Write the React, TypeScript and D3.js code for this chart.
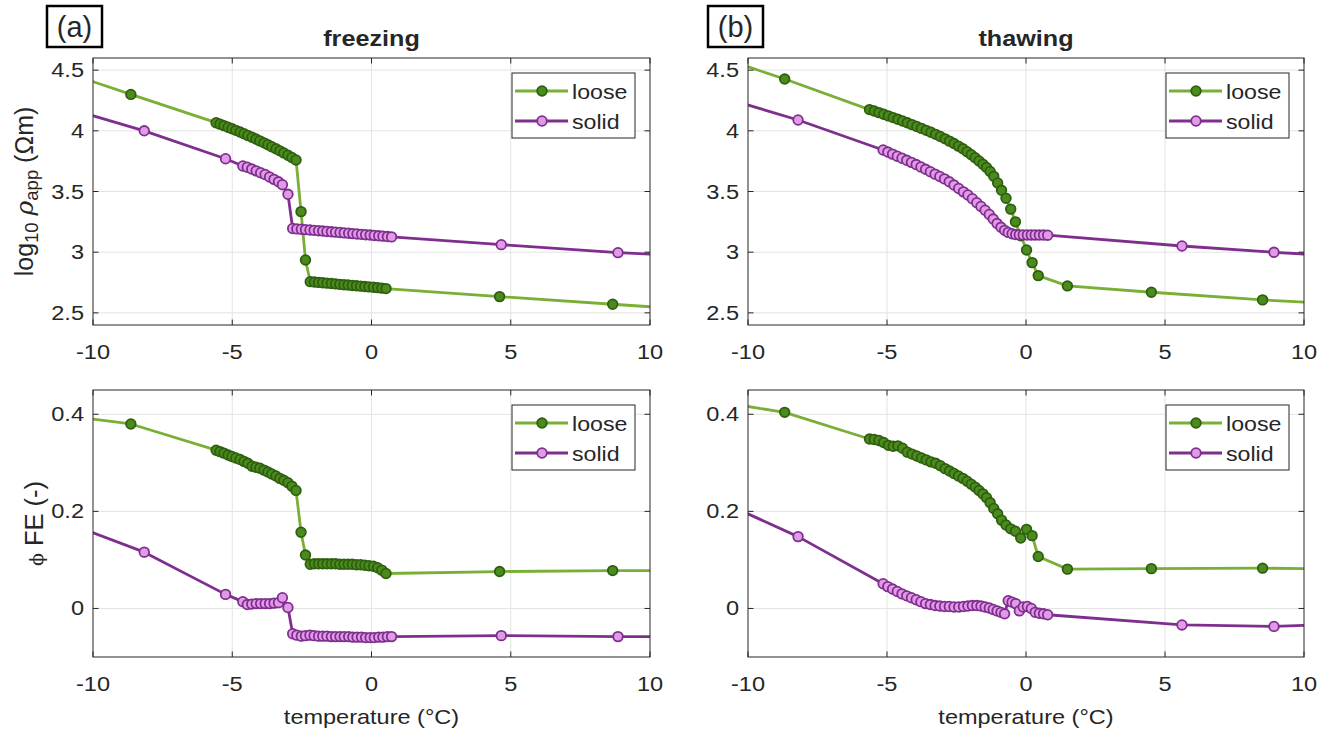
import React from "react";
import * as d3 from "d3";

// ---------- data ----------
const xTicks = [-10, -5, 0, 5, 10];
const rhoTicks = [2.5, 3, 3.5, 4, 4.5];
const phiTicks = [0, 0.2, 0.4];
const seriesNames = ["loose", "solid"];

// freezing, loose
const tFreezeLoose = [
  -12.0, -8.64,
  -5.58, -5.44, -5.30, -5.15, -5.01, -4.87, -4.72, -4.58, -4.44, -4.29, -4.15, -4.01, -3.86, -3.72, -3.58, -3.43, -3.29, -3.15, -3.00, -2.86, -2.71,
  -2.53, -2.37,
  -2.20, -2.05, -1.90, -1.75, -1.60, -1.44, -1.29, -1.14, -0.99, -0.84, -0.69, -0.54, -0.39, -0.24, -0.09, 0.07, 0.22, 0.37, 0.52,
  4.60, 8.66, 12.6,
];
const rhoFreezeLoose = [
  4.56, 4.30,
  4.067, 4.055, 4.043, 4.030, 4.017, 4.004, 3.990, 3.976, 3.962, 3.947, 3.932, 3.917, 3.901, 3.885, 3.869, 3.852, 3.835, 3.818, 3.799, 3.780, 3.760,
  3.334, 2.936,
  2.757, 2.754, 2.751, 2.748, 2.745, 2.742, 2.739, 2.735, 2.732, 2.729, 2.726, 2.723, 2.720, 2.717, 2.714, 2.711, 2.708, 2.704, 2.700,
  2.634, 2.571, 2.51,
];
const phiFreezeLoose = [
  0.405, 0.380,
  0.326, 0.323, 0.320, 0.316, 0.313, 0.310, 0.307, 0.303, 0.299, 0.293, 0.291, 0.289, 0.285, 0.281, 0.277, 0.273, 0.268, 0.264, 0.259, 0.252, 0.243,
  0.157, 0.110,
  0.091, 0.092, 0.092, 0.092, 0.092, 0.092, 0.092, 0.091, 0.091, 0.091, 0.091, 0.090, 0.090, 0.089, 0.088, 0.087, 0.084, 0.079, 0.072,
  0.076, 0.078, 0.078,
];

// freezing, solid
const tFreezeSolid = [
  -12.0, -8.16, -5.24,
  -4.62, -4.46, -4.30, -4.14, -3.98, -3.82, -3.66, -3.50, -3.34, -3.20,
  -3.00,
  -2.83, -2.68, -2.52, -2.37, -2.21, -2.06, -1.90, -1.75, -1.60, -1.44, -1.29, -1.13, -0.98, -0.82, -0.67, -0.52, -0.36, -0.21, -0.05, 0.10, 0.26, 0.41, 0.57, 0.72,
  4.66, 8.85, 12.5,
];
const rhoFreezeSolid = [
  4.26, 4.00, 3.77,
  3.71, 3.70, 3.685, 3.67, 3.655, 3.64, 3.62, 3.60, 3.58, 3.556,
  3.477,
  3.195, 3.192, 3.189, 3.186, 3.183, 3.180, 3.177, 3.174, 3.171, 3.168, 3.165, 3.162, 3.159, 3.156, 3.153, 3.150, 3.147, 3.144, 3.141, 3.138, 3.135, 3.132, 3.129, 3.126,
  3.062, 2.996, 2.96,
];
const phiFreezeSolid = [
  0.199, 0.116, 0.029,
  0.014, 0.008, 0.009, 0.010, 0.010, 0.010, 0.010, 0.011, 0.012, 0.022,
  0.002,
  -0.052, -0.055, -0.057, -0.056, -0.055, -0.056, -0.057, -0.057, -0.057, -0.058, -0.058, -0.058, -0.058, -0.058, -0.059, -0.059, -0.059, -0.060, -0.060, -0.060, -0.059, -0.059, -0.058, -0.058,
  -0.056, -0.058, -0.058,
];

// thawing, loose
const tThawLoose = [
  -12.0, -8.68, -5.63, -5.46, -5.29, -5.12, -4.95, -4.78, -4.61, -4.44, -4.27, -4.10, -3.93, -3.76, -3.59, -3.42, -3.25, -3.08, -2.91, -2.75,
  -2.59, -2.43, -2.27, -2.12, -1.97, -1.83, -1.69, -1.55, -1.42, -1.29, -1.16, -1.02, -0.88, -0.72, -0.55, -0.38, -0.19, 0.02, 0.22, 0.44,
  1.49, 4.51, 8.51, 12.5,
];
const rhoThawLoose = [
  4.68, 4.427, 4.175, 4.163, 4.150, 4.137, 4.123, 4.109, 4.095, 4.081, 4.066, 4.051, 4.036, 4.020, 4.004, 3.988, 3.971, 3.953, 3.934, 3.915,
  3.895, 3.874, 3.852, 3.828, 3.803, 3.778, 3.752, 3.725, 3.698, 3.665, 3.625, 3.570, 3.510, 3.445, 3.355, 3.250, 3.135, 3.018, 2.914, 2.807,
  2.722, 2.670, 2.607, 2.556,
];
const phiThawLoose = [
  0.434, 0.404, 0.349, 0.348, 0.346, 0.342, 0.336, 0.334, 0.335, 0.330, 0.322, 0.318, 0.314, 0.310, 0.306, 0.302, 0.299, 0.294, 0.288, 0.283,
  0.278, 0.273, 0.268, 0.262, 0.256, 0.250, 0.243, 0.236, 0.228, 0.218, 0.206, 0.195, 0.182, 0.172, 0.164, 0.159, 0.145, 0.163, 0.150, 0.107,
  0.081, 0.082, 0.083, 0.080,
];

// thawing, solid
const tThawSolid = [
  -12.0, -8.20, -5.14, -4.97, -4.80, -4.63, -4.46, -4.29, -4.12, -3.95, -3.78, -3.61, -3.44, -3.27, -3.10, -2.93, -2.76, -2.59, -2.42, -2.25,
  -2.09, -1.93, -1.77, -1.62, -1.47, -1.32, -1.18, -1.04, -0.90, -0.77, -0.64, -0.50, -0.37, -0.24, -0.10, 0.05, 0.19, 0.33, 0.48, 0.63,
  0.78, 5.61, 8.92, 12.5,
];
const rhoThawSolid = [
  4.35, 4.089, 3.842, 3.825, 3.808, 3.791, 3.774, 3.757, 3.740, 3.722, 3.702, 3.683, 3.663, 3.643, 3.624, 3.604, 3.580, 3.553, 3.525, 3.497,
  3.471, 3.441, 3.408, 3.377, 3.346, 3.311, 3.273, 3.236, 3.205, 3.180, 3.163, 3.152, 3.145, 3.143, 3.142, 3.142, 3.142, 3.142, 3.141, 3.141,
  3.140, 3.051, 2.999, 2.953,
];
const phiThawSolid = [
  0.247, 0.148, 0.051, 0.045, 0.040, 0.035, 0.030, 0.026, 0.022, 0.018, 0.014, 0.010, 0.008, 0.006, 0.005, 0.004, 0.004, 0.003, 0.003, 0.004,
  0.005, 0.006, 0.006, 0.005, 0.003, 0.001, -0.002, -0.005, -0.008, -0.011, 0.016, 0.013, 0.010, -0.005, 0.003, 0.004, 0.000, -0.008, -0.010, -0.011,
  -0.013, -0.034, -0.037, -0.030,
];

// ---------- styling ----------
const W = 1331;
const H = 732;
const FONT = "'Liberation Sans', Arial, Helvetica, sans-serif";
const SX = 1.21;
const INK = "#262626";
const GRID = "#e3e3e3";
const STY: Record<string, { line: string; fill: string; edge: string }> = {
  loose: { line: "#7aaf36", fill: "#4b8a1d", edge: "#2d5f0e" },
  solid: { line: "#7e2f8e", fill: "#e29ae8", edge: "#7e2f8e" },
};
const MR = 4.8;
const MSW = 1.8;
const LW = 2.8;
const COLS = [
  { x0: 93, x1: 650 },
  { x0: 748, x1: 1304 },
];
const ROWS = [
  { y0: 58, y1: 325 },
  { y0: 390, y1: 657 },
];

function SText(p: {
  x: number; y: number; anchor?: string; size?: number; weight?: string; sx?: number; children: any;
}) {
  const sx = p.sx ?? SX;
  return (
    <text
      transform={`translate(${p.x},${p.y}) scale(${sx},1)`}
      textAnchor={p.anchor ?? "middle"}
      fontSize={p.size ?? 19.5}
      fontWeight={p.weight ?? "normal"}
      fontFamily={FONT}
      fill={INK}
    >
      {p.children}
    </text>
  );
}

type S = { name: string; t: number[]; v: number[] };

function Panel(p: {
  id: string; x0: number; x1: number; y0: number; y1: number;
  yDomain: [number, number]; yTicks: number[]; series: S[];
}) {
  const x = d3.scaleLinear().domain([-10, 10]).range([p.x0, p.x1]);
  const y = d3.scaleLinear().domain(p.yDomain).range([p.y1, p.y0]);
  const mk = (s: S) =>
    d3.line<[number, number]>().x((d) => x(d[0])).y((d) => y(d[1]))(
      s.t.map((t, i) => [t, s.v[i]] as [number, number])
    );
  const tl = 5.5;
  const gridX = xTicks.filter((t) => t > -10 && t < 10);
  const gridY = p.yTicks;
  const lgX = p.x1 - 138;
  const lgY = p.y0 + 15;
  return (
    <g>
      <defs>
        <clipPath id={`clip-${p.id}`}>
          <rect x={p.x0} y={p.y0} width={p.x1 - p.x0} height={p.y1 - p.y0} />
        </clipPath>
      </defs>
      <rect x={p.x0} y={p.y0} width={p.x1 - p.x0} height={p.y1 - p.y0} fill="#fff" />
      {gridX.map((t) => (
        <line key={"gx" + t} x1={x(t)} x2={x(t)} y1={p.y0} y2={p.y1} stroke={GRID} strokeWidth={1} />
      ))}
      {gridY.map((t) => (
        <line key={"gy" + t} x1={p.x0} x2={p.x1} y1={y(t)} y2={y(t)} stroke={GRID} strokeWidth={1} />
      ))}
      <g clipPath={`url(#clip-${p.id})`}>
        {p.series.map((s) => (
          <g key={s.name}>
            <path d={mk(s) ?? ""} fill="none" stroke={STY[s.name].line} strokeWidth={LW} strokeLinejoin="round" />
            {s.t.map((t, i) =>
              t >= -10 && t <= 10 ? (
                <circle key={i} cx={x(t)} cy={y(s.v[i])} r={MR} fill={STY[s.name].fill} stroke={STY[s.name].edge} strokeWidth={MSW} />
              ) : null
            )}
          </g>
        ))}
      </g>
      <rect x={p.x0} y={p.y0} width={p.x1 - p.x0} height={p.y1 - p.y0} fill="none" stroke={INK} strokeWidth={1} />
      {xTicks.map((t) => (
        <g key={"tx" + t}>
          <line x1={x(t)} x2={x(t)} y1={p.y1} y2={p.y1 - tl} stroke={INK} />
          <line x1={x(t)} x2={x(t)} y1={p.y0} y2={p.y0 + tl} stroke={INK} />
          <SText x={x(t)} y={p.y1 + 34}>{String(t)}</SText>
        </g>
      ))}
      {p.yTicks.map((t) => (
        <g key={"ty" + t}>
          <line x1={p.x0} x2={p.x0 + tl} y1={y(t)} y2={y(t)} stroke={INK} />
          <line x1={p.x1} x2={p.x1 - tl} y1={y(t)} y2={y(t)} stroke={INK} />
          <SText x={p.x0 - 9} y={y(t) + 7} anchor="end">{String(t)}</SText>
        </g>
      ))}
      <rect x={lgX} y={lgY} width={123} height={65} fill="#fff" stroke={INK} strokeWidth={1} />
      {p.series.map((s, i) => {
        const ly = lgY + 18 + i * 30;
        return (
          <g key={"lg" + s.name}>
            <line x1={lgX + 3} x2={lgX + 56} y1={ly} y2={ly} stroke={STY[s.name].line} strokeWidth={LW} />
            <circle cx={lgX + 30} cy={ly} r={MR} fill={STY[s.name].fill} stroke={STY[s.name].edge} strokeWidth={MSW} />
            <SText x={lgX + 60} y={ly + 7.5} anchor="start" size={20.5} sx={1.13}>{seriesNames[i]}</SText>
          </g>
        );
      })}
    </g>
  );
}

export default function App() {
  const panels = [
    { id: "a1", col: 0, row: 0, yDomain: [2.4, 4.6] as [number, number], yTicks: rhoTicks,
      series: [ { name: "loose", t: tFreezeLoose, v: rhoFreezeLoose }, { name: "solid", t: tFreezeSolid, v: rhoFreezeSolid } ] },
    { id: "b1", col: 1, row: 0, yDomain: [2.4, 4.6] as [number, number], yTicks: rhoTicks,
      series: [ { name: "loose", t: tThawLoose, v: rhoThawLoose }, { name: "solid", t: tThawSolid, v: rhoThawSolid } ] },
    { id: "a2", col: 0, row: 1, yDomain: [-0.1, 0.45] as [number, number], yTicks: phiTicks,
      series: [ { name: "loose", t: tFreezeLoose, v: phiFreezeLoose }, { name: "solid", t: tFreezeSolid, v: phiFreezeSolid } ] },
    { id: "b2", col: 1, row: 1, yDomain: [-0.1, 0.45] as [number, number], yTicks: phiTicks,
      series: [ { name: "loose", t: tThawLoose, v: phiThawLoose }, { name: "solid", t: tThawSolid, v: phiThawSolid } ] },
  ];
  return (
    <svg width={W} height={H} style={{ position: "absolute", left: 0, top: 0, display: "block", background: "#fff" }}>
      <rect x={0} y={0} width={W} height={H} fill="#fff" />
      {panels.map((pp) => (
        <Panel key={pp.id} id={pp.id} {...COLS[pp.col]} {...ROWS[pp.row]} yDomain={pp.yDomain} yTicks={pp.yTicks} series={pp.series} />
      ))}
      <SText x={(COLS[0].x0 + COLS[0].x1) / 2} y={46} size={22.5} weight="bold" sx={1.12}>freezing</SText>
      <SText x={(COLS[1].x0 + COLS[1].x1) / 2} y={46} size={22.5} weight="bold" sx={1.12}>thawing</SText>
      <rect x={47} y={6} width={55} height={41} fill="#fff" stroke="#000" strokeWidth={2.5} />
      <SText x={74.5} y={37} size={29} sx={1.0}>(a)</SText>
      <rect x={708} y={6} width={55} height={41} fill="#fff" stroke="#000" strokeWidth={2.5} />
      <SText x={735.5} y={37} size={29} sx={1.0}>(b)</SText>
      {COLS.map((c, i) => (
        <SText key={"xl" + i} x={(c.x0 + c.x1) / 2} y={724} size={21} sx={1.12}>temperature (°C)</SText>
      ))}
      <text
        transform={`translate(33,${(ROWS[0].y0 + ROWS[0].y1) / 2}) rotate(-90)`}
        textAnchor="middle" fontSize={25} fontFamily={FONT} fill={INK}
      >
        log<tspan fontSize={18.5} dy={5}>10</tspan>
        <tspan dy={-5}> </tspan>
        <tspan fontStyle="italic" fontFamily="'DejaVu Serif', serif">ρ</tspan>
        <tspan fontSize={18.5} dy={5}>app</tspan>
        <tspan dy={-5}> (Ωm)</tspan>
      </text>
      <text
        transform={`translate(43,${(ROWS[1].y0 + ROWS[1].y1) / 2}) rotate(-90)`}
        textAnchor="middle" fontSize={25.5} fontFamily={FONT} fill={INK}
      >
        <tspan fontSize={19} fontFamily="'DejaVu Serif', serif">ϕ</tspan> FE (-)
      </text>
    </svg>
  );
}
